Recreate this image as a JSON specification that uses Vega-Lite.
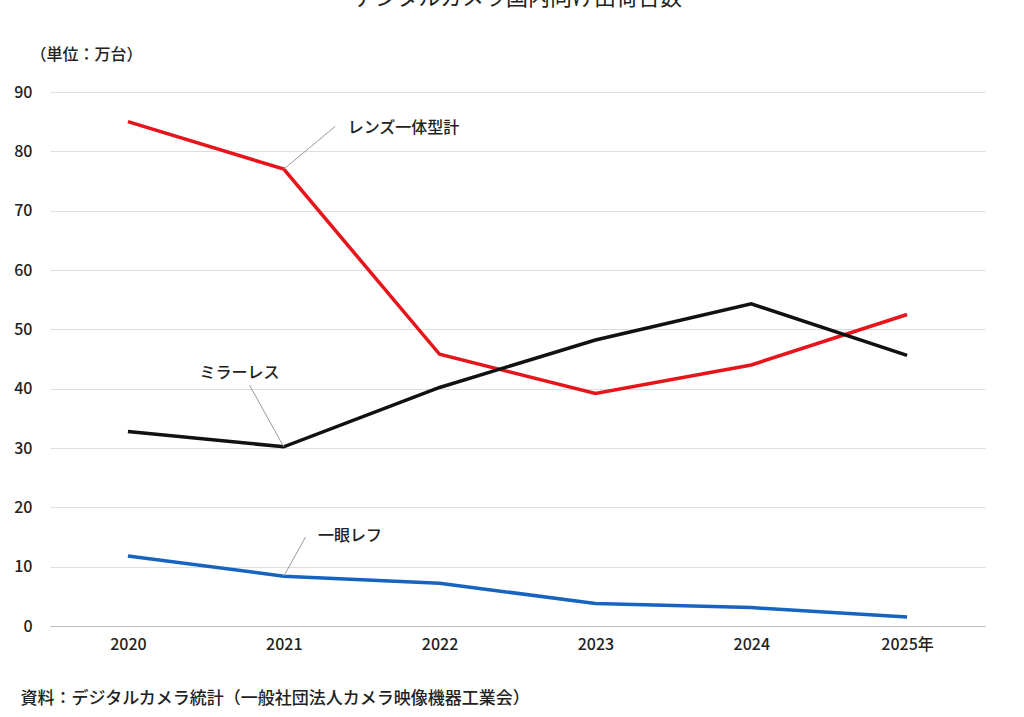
{
"$schema":"https://vega.github.io/schema/vega-lite/v6.json",
"autosize":{"type":"none"},
"width":935,"height":534,
"padding":{"left":50,"top":92,"right":39,"bottom":91},
"background":"white",
"config":{"font":"Noto Sans CJK JP","view":{"stroke":null}},
"title":{"text":"デジタルカメラ国内向け出荷台数","fontSize":22,"fontWeight":"normal","anchor":"middle","offset":36,"color":"#222"},
"datasets":{
"lines":[
{"year":2020,"v":85,"s":"レンズ一体型計"},{"year":2021,"v":77,"s":"レンズ一体型計"},{"year":2022,"v":45.8,"s":"レンズ一体型計"},{"year":2023,"v":39.2,"s":"レンズ一体型計"},{"year":2024,"v":44,"s":"レンズ一体型計"},{"year":2025,"v":52.5,"s":"レンズ一体型計"},
{"year":2020,"v":32.8,"s":"ミラーレス"},{"year":2021,"v":30.2,"s":"ミラーレス"},{"year":2022,"v":40.2,"s":"ミラーレス"},{"year":2023,"v":48.2,"s":"ミラーレス"},{"year":2024,"v":54.3,"s":"ミラーレス"},{"year":2025,"v":45.6,"s":"ミラーレス"},
{"year":2020,"v":11.8,"s":"一眼レフ"},{"year":2021,"v":8.4,"s":"一眼レフ"},{"year":2022,"v":7.2,"s":"一眼レフ"},{"year":2023,"v":3.8,"s":"一眼レフ"},{"year":2024,"v":3.1,"s":"一眼レフ"},{"year":2025,"v":1.5,"s":"一眼レフ"}],
"leaders":[
{"id":"a","year":2021,"v":77},{"id":"a","year":2021.33,"v":84.2},
{"id":"b","year":2021,"v":30.2},{"id":"b","year":2020.78,"v":40.6},
{"id":"c","year":2021,"v":8.4},{"id":"c","year":2021.14,"v":15}],
"labels":[
{"year":2021.41,"v":84,"t":"レンズ一体型計"},
{"year":2020.46,"v":42.6,"t":"ミラーレス"},
{"year":2021.22,"v":15.2,"t":"一眼レフ"}]
},
"layer":[
{"data":{"name":"lines"},"mark":{"type":"line","strokeWidth":3.5},
"encoding":{
"x":{"field":"year","type":"quantitative","scale":{"domain":[2019.5,2025.5]},
 "axis":{"values":[2020,2021,2022,2023,2024,2025],"labelExpr":"datum.value==2025?'2025年':datum.value","grid":false,"ticks":false,"domainColor":"#bbb","labelFontSize":16,"labelFontWeight":500,"labelColor":"#222","labelPadding":10,
 "title":"資料：デジタルカメラ統計（一般社団法人カメラ映像機器工業会）","titleFontSize":17,"titleFontWeight":500,"titleColor":"#222","titleAnchor":"start","titleX":-30,"titleY":64,"titleAlign":"left"}},
"y":{"field":"v","type":"quantitative","scale":{"domain":[0,90]},
 "axis":{"values":[0,10,20,30,40,50,60,70,80,90],"domain":false,"ticks":false,"gridColor":"#ddd","labelFontSize":16,"labelFontWeight":500,"labelColor":"#222","labelPadding":18,
 "title":"（単位：万台）","titleAngle":0,"titleX":-20,"titleY":-30,"titleAlign":"left","titleFontSize":16,"titleFontWeight":500,"titleColor":"#222"}},
"color":{"field":"s","type":"nominal","scale":{"domain":["レンズ一体型計","ミラーレス","一眼レフ"],"range":["#e8141b","#111111","#1764c0"]},"legend":null}}},
{"data":{"name":"leaders"},"mark":{"type":"line","color":"#999","strokeWidth":1},
"encoding":{"x":{"field":"year","type":"quantitative"},"y":{"field":"v","type":"quantitative"},"detail":{"field":"id"}}},
{"data":{"name":"labels"},"mark":{"type":"text","align":"left","fontSize":16,"fontWeight":500,"color":"#222"},
"encoding":{"x":{"field":"year","type":"quantitative"},"y":{"field":"v","type":"quantitative"},"text":{"field":"t"}}}
]
}
